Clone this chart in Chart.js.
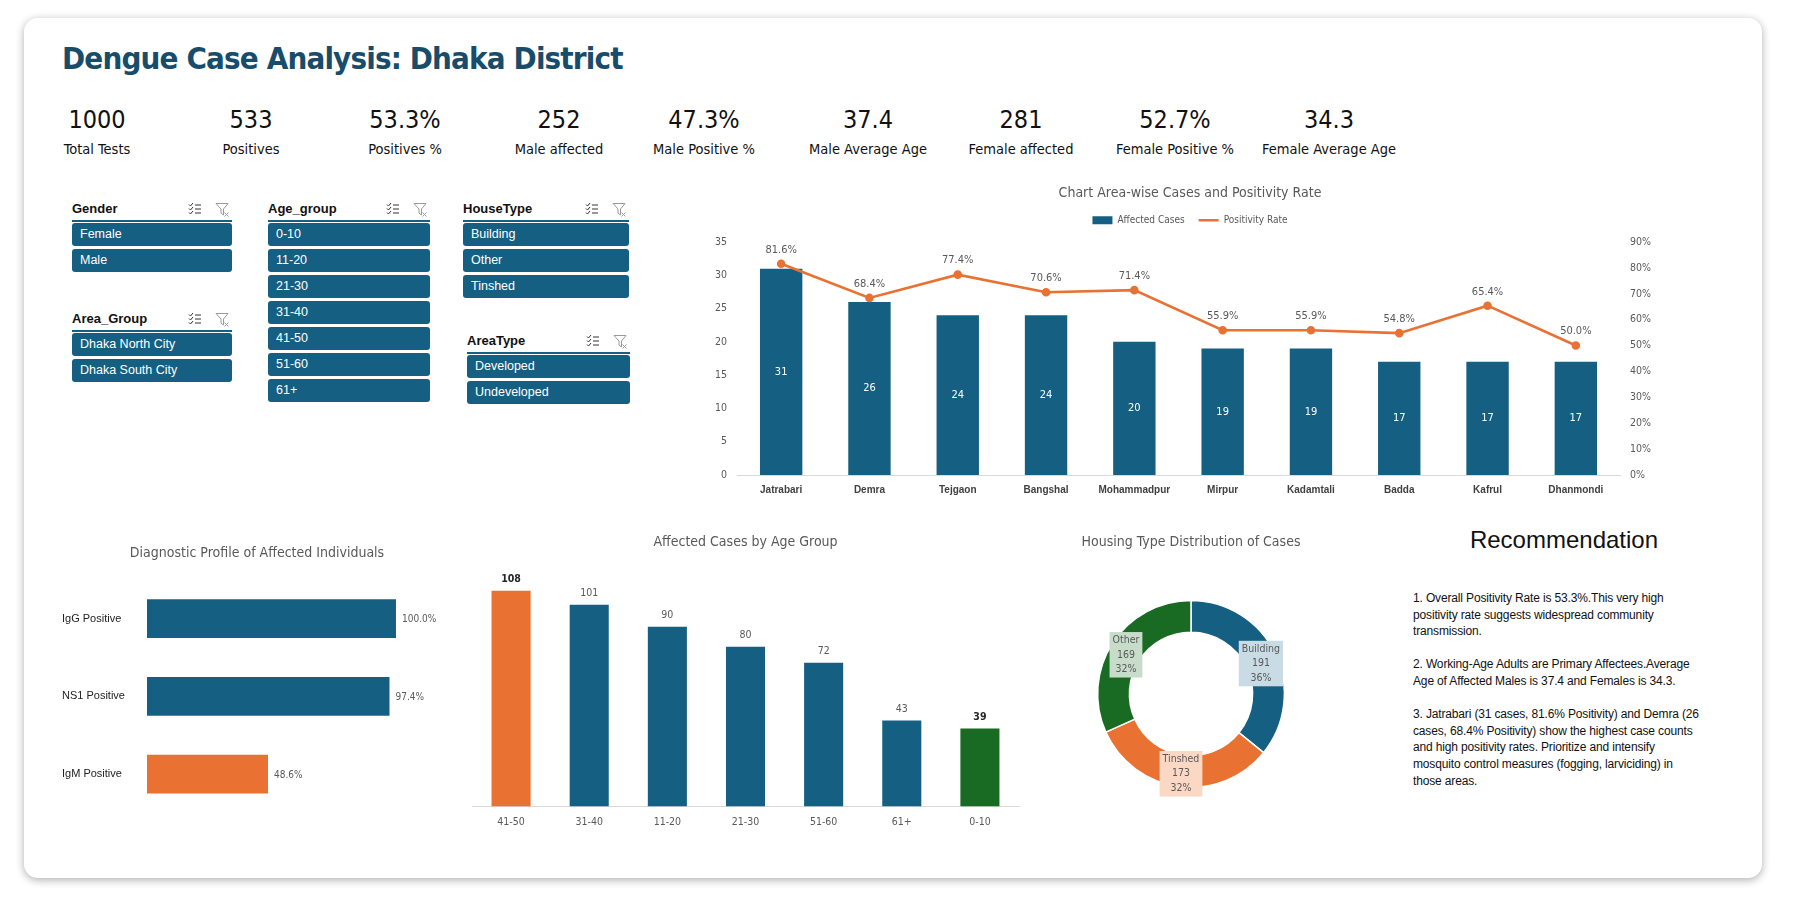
<!DOCTYPE html>
<html>
<head>
<meta charset="utf-8">
<title>Dengue Case Analysis: Dhaka District</title>
<script src="https://cdn.jsdelivr.net/npm/chart.js@4.4.1/dist/chart.umd.min.js"></script>
<style>
  html, body { margin: 0; padding: 0; background: #fff; width: 1797px; height: 911px; overflow: hidden; }
  body { font-family: 'Liberation Sans', Arial, sans-serif; color: #111; }
  #card { position: absolute; left: 24px; top: 18px; width: 1738px; height: 860px; background: #fff;
          border-radius: 14px; box-shadow: 0 2px 9px rgba(0,0,0,.32); }
  #title { position: absolute; left: 62px; top: 40px; font: bold 31px 'Liberation Sans Narrow', 'DejaVu Sans Condensed', sans-serif; color: #174d6b; letter-spacing: -0.85px; }
  .kpi { position: absolute; transform: translateX(-50%); text-align: center; white-space: nowrap; }
  .kv { font: 25px 'Liberation Sans Narrow', 'DejaVu Sans Condensed', sans-serif; line-height: 30px; height: 30px; color: #111; }
  .kl { font: 14.5px 'Liberation Sans Narrow', 'DejaVu Sans Condensed', sans-serif; line-height: 18px; margin-top: 5px; color: #111; }
  .sl { position: absolute; }
  .sh { position: relative; height: 22px; font: bold 13px 'Liberation Sans', Arial, sans-serif; line-height: 22px; border-bottom: 2px solid #156082; color: #111; }
  .sh svg { position: absolute; top: 4px; }
  .btn { height: 23px; margin-top: 3px; background: #156082; border-radius: 3px; color: #fff; font: 12.5px 'Liberation Sans', Arial, sans-serif; line-height: 23px; padding-left: 8px; }
  .sh + .btn { margin-top: 1px; }
  .box { position: absolute; }
  #recT { position: absolute; left: 1464px; top: 526px; width: 200px; text-align: center; font: 24px 'Liberation Sans', Arial, sans-serif; color: #111; }
  #recB { position: absolute; left: 1413px; top: 590px; font: 12px 'Liberation Sans', Arial, sans-serif; line-height: 16.6px; color: #111; white-space: nowrap; letter-spacing: -0.15px; }
</style>
</head>
<body>
<div id="card"></div>
<div id="title">Dengue Case Analysis: Dhaka District</div>
<div id="kpis"></div>
<div id="slicers"></div>

<div class="box" style="left:690px;top:179px;width:1000px;height:326px"><canvas id="areaChart"></canvas></div>
<div class="box" style="left:40px;top:530px;width:440px;height:290px"><canvas id="diagChart"></canvas></div>
<div class="box" style="left:460px;top:520px;width:570px;height:320px"><canvas id="ageChart"></canvas></div>
<div class="box" style="left:1011px;top:520px;width:360px;height:290px"><canvas id="houseChart"></canvas></div>

<div id="recT">Recommendation</div>
<div id="recB">1. Overall Positivity Rate is 53.3%.This very high<br>positivity rate suggests widespread community<br>transmission.<br><br>2. Working-Age Adults are Primary Affectees.Average<br>Age of Affected Males is 37.4 and Females is 34.3.<br><br>3. Jatrabari (31 cases, 81.6% Positivity) and Demra (26<br>cases, 68.4% Positivity) show the highest case counts<br>and high positivity rates. Prioritize and intensify<br>mosquito control measures (fogging, larviciding) in<br>those areas.</div>

<script>
// KPI cards
const kpiValues = ['1000', '533', '53.3%', '252', '47.3%', '37.4', '281', '52.7%', '34.3'];
const kpiLabels = ['Total Tests', 'Positives', 'Positives %', 'Male affected', 'Male Positive %',
                   'Male Average Age', 'Female affected', 'Female Positive %', 'Female Average Age'];

// area-wise cases and positivity
const areaNames = ['Jatrabari', 'Demra', 'Tejgaon', 'Bangshal', 'Mohammadpur', 'Mirpur', 'Kadamtali', 'Badda', 'Kafrul', 'Dhanmondi'];
const areaCases = [31, 26, 24, 24, 20, 19, 19, 17, 17, 17];
const areaPositivity = [81.6, 68.4, 77.4, 70.6, 71.4, 55.9, 55.9, 54.8, 65.4, 50.0];

// diagnostic profile
const testNames = ['IgG Positive', 'NS1 Positive', 'IgM Positive'];
const testRates = [100.0, 97.4, 48.6];

// age groups
const ageGroups = ['41-50', '31-40', '11-20', '21-30', '51-60', '61+', '0-10'];
const ageCases = [108, 101, 90, 80, 72, 43, 39];

// housing
const houseTypes = ['Building', 'Tinshed', 'Other'];
const houseCases = [191, 173, 169];

// slicers
const slicerGender = ['Female', 'Male'];
const slicerArea = ['Dhaka North City', 'Dhaka South City'];
const slicerAge = ['0-10', '11-20', '21-30', '31-40', '41-50', '51-60', '61+'];
const slicerHouse = ['Building', 'Other', 'Tinshed'];
const slicerAreaType = ['Developed', 'Undeveloped'];

const BLUE = '#156082', ORANGE = '#E97132', GREEN = '#196B24';
const GREY = '#595959';
const NARROW = "'Liberation Sans Narrow', 'DejaVu Sans Condensed', Arial, sans-serif";
const REG = "'Liberation Sans', Arial, sans-serif";

// ---- KPIs
const kpiX = [97, 251, 405, 559, 704, 868, 1021, 1175, 1329];
const kpiBox = document.getElementById('kpis');
kpiValues.forEach((v, i) => {
  const d = document.createElement('div');
  d.className = 'kpi';
  d.style.left = kpiX[i] + 'px';
  d.style.top = '105px';
  d.innerHTML = '<div class="kv">' + v + '</div><div class="kl">' + kpiLabels[i] + '</div>';
  kpiBox.appendChild(d);
});

// ---- slicers
const iconList = '<svg style="right:30px" width="14" height="14" viewBox="0 0 14 14" fill="none" stroke="#333" stroke-width="1"><path d="M1 2.5l1.5 1.5 2.5-3M1 6.5l1.5 1.5 2.5-3M1 10.5l1.5 1.5 2.5-3M7 3h6M7 7h6M7 11h6"/></svg>';
const iconFilter = '<svg style="right:2px" width="15" height="15" viewBox="0 0 15 15" fill="none" stroke="#9a9a9a" stroke-width="1"><path d="M1 1.5h12l-4.5 5.5v6l-2.5-1.8V7z"/><path d="M9.5 10.5l4 4M13.5 10.5l-4 4"/></svg>';
function slicer(name, items, left, top, width) {
  const d = document.createElement('div');
  d.className = 'sl';
  d.style.left = left + 'px';
  d.style.top = top + 'px';
  d.style.width = width + 'px';
  let html = '<div class="sh">' + name + iconList + iconFilter + '</div>';
  items.forEach(t => { html += '<div class="btn">' + t + '</div>'; });
  d.innerHTML = html;
  document.getElementById('slicers').appendChild(d);
}
slicer('Gender', slicerGender, 72, 198, 160);
slicer('Area_Group', slicerArea, 72, 308, 160);
slicer('Age_group', slicerAge, 268, 198, 162);
slicer('HouseType', slicerHouse, 463, 198, 166);
slicer('AreaType', slicerAreaType, 467, 330, 163);

Chart.defaults.font.family = NARROW;
Chart.defaults.color = GREY;
Chart.defaults.animation = false;

// ---- area-wise combo chart
new Chart(document.getElementById('areaChart'), {
  type: 'bar',
  data: {
    labels: areaNames,
    datasets: [
      { type: 'bar', label: 'Affected Cases', data: areaCases, backgroundColor: BLUE,
        barPercentage: 0.48, categoryPercentage: 1, yAxisID: 'y', order: 2 },
      { type: 'line', label: 'Positivity Rate', data: areaPositivity, borderColor: ORANGE,
        backgroundColor: ORANGE, borderWidth: 2.6, pointRadius: 3, pointBackgroundColor: ORANGE,
        yAxisID: 'y1', order: 1, tension: 0 }
    ]
  },
  options: {
    responsive: true, maintainAspectRatio: false,
    layout: { padding: 0 },
    scales: {
      x: { grid: { display: false, drawTicks: false }, border: { color: '#d9d9d9' },
           ticks: { padding: 9, color: '#404040', font: { family: REG, size: 10, weight: 'bold' } } },
      x2: { position: 'top', grid: { display: false, drawTicks: false }, border: { display: false },
            ticks: { display: false }, afterFit: s => { s.height = 6.7; } },
      y: { min: 0, max: 35, position: 'left',
           ticks: { stepSize: 5, padding: 10, font: { size: 10.5 } },
           grid: { display: false, drawTicks: false }, border: { display: false },
           afterFit: s => { s.width = 47; } },
      y1: { min: 0, max: 90, position: 'right',
            ticks: { stepSize: 10, padding: 10, font: { size: 10.5 }, callback: v => v + '%' },
            grid: { display: false, drawTicks: false }, border: { display: false },
            afterFit: s => { s.width = 70; } }
    },
    plugins: {
      title: { display: true, text: 'Chart Area-wise Cases and Positivity Rate', color: GREY,
               font: { size: 14, weight: 'normal' }, padding: { top: 5.5, bottom: 0 } },
      legend: {
        labels: {
          usePointStyle: true, pointStyleWidth: 20, boxHeight: 8, padding: 14,
          font: { size: 10 }, color: GREY,
          sort: (a, b) => a.datasetIndex - b.datasetIndex,
          generateLabels(chart) {
            const items = Chart.defaults.plugins.legend.labels.generateLabels(chart);
            items.forEach(it => { it.pointStyle = it.datasetIndex === 0 ? 'rect' : 'line'; });
            return items;
          }
        }
      },
      tooltip: { enabled: false }
    }
  },
  plugins: [{
    id: 'areaLabels',
    afterDatasetsDraw(chart) {
      const ctx = chart.ctx;
      ctx.save();
      ctx.textAlign = 'center';
      ctx.textBaseline = 'middle';
      ctx.font = '11px ' + NARROW;
      chart.getDatasetMeta(0).data.forEach((el, i) => {
        ctx.fillStyle = '#fff';
        ctx.fillText(areaCases[i], el.x, (el.y + el.base) / 2);
      });
      chart.getDatasetMeta(1).data.forEach((el, i) => {
        ctx.fillStyle = GREY;
        ctx.fillText(areaPositivity[i].toFixed(1) + '%', el.x, el.y - 14);
      });
      ctx.restore();
    }
  }]
});

// ---- diagnostic profile
new Chart(document.getElementById('diagChart'), {
  type: 'bar',
  data: {
    labels: testNames,
    datasets: [{ data: testRates, backgroundColor: [BLUE, BLUE, ORANGE], barPercentage: 0.5, categoryPercentage: 1 }]
  },
  options: {
    indexAxis: 'y',
    responsive: true, maintainAspectRatio: false,
    layout: { padding: { left: 22, right: 28, bottom: 7 } },
    scales: {
      x: { display: false, min: 0, max: 122.5 },
      y: { grid: { display: false, drawTicks: false }, border: { display: false },
           ticks: { padding: 0, crossAlign: 'far', color: '#222', font: { family: REG, size: 11 } },
           afterFit: s => { s.width = 85; } }
    },
    plugins: {
      legend: { display: false },
      tooltip: { enabled: false },
      title: { display: true, text: 'Diagnostic Profile of Affected Individuals', color: GREY,
               font: { size: 14, weight: 'normal' }, padding: { top: 15, bottom: 18 } }
    }
  },
  plugins: [{
    id: 'diagLabels',
    afterDatasetsDraw(chart) {
      const ctx = chart.ctx;
      ctx.save();
      ctx.textAlign = 'left';
      ctx.textBaseline = 'middle';
      ctx.fillStyle = GREY;
      ctx.font = '10px ' + NARROW;
      chart.getDatasetMeta(0).data.forEach((el, i) => {
        ctx.fillText(testRates[i].toFixed(1) + '%', el.x + 6, el.y + 1);
      });
      ctx.restore();
    }
  }]
});

// ---- age groups
const ageColors = [ORANGE, BLUE, BLUE, BLUE, BLUE, BLUE, GREEN];
new Chart(document.getElementById('ageChart'), {
  type: 'bar',
  data: {
    labels: ageGroups,
    datasets: [{ data: ageCases, backgroundColor: ageColors, barPercentage: 0.5, categoryPercentage: 1 }]
  },
  options: {
    responsive: true, maintainAspectRatio: false,
    layout: { padding: { left: 12, right: 11, bottom: 1 } },
    scales: {
      x: { grid: { display: false, drawTicks: false }, border: { color: '#d9d9d9' },
           ticks: { padding: 10, font: { size: 10.5 } } },
      y: { display: false, min: 0, max: 120 }
    },
    plugins: {
      legend: { display: false },
      tooltip: { enabled: false },
      title: { display: true, text: 'Affected Cases by Age Group', color: GREY,
               font: { size: 14, weight: 'normal' }, padding: { top: 14, bottom: 16 } }
    }
  },
  plugins: [{
    id: 'ageLabels',
    afterDatasetsDraw(chart) {
      const ctx = chart.ctx;
      ctx.save();
      ctx.textAlign = 'center';
      ctx.textBaseline = 'middle';
      chart.getDatasetMeta(0).data.forEach((el, i) => {
        const hi = ageColors[i] !== BLUE;
        ctx.fillStyle = hi ? '#262626' : GREY;
        ctx.font = (hi ? 'bold ' : '') + '10.5px ' + NARROW;
        ctx.fillText(ageCases[i], el.x, el.y - 11);
      });
      ctx.restore();
    }
  }]
});

// ---- housing doughnut
const houseLabelBg = ['#c9dbe4', '#fbd8c4', '#c7dcc9'];
new Chart(document.getElementById('houseChart'), {
  type: 'doughnut',
  data: {
    labels: houseTypes,
    datasets: [{ data: houseCases, backgroundColor: [BLUE, ORANGE, GREEN], borderColor: '#fff', borderWidth: 1.5 }]
  },
  options: {
    responsive: true, maintainAspectRatio: false,
    cutout: '66%',
    layout: { padding: { bottom: 22 } },
    plugins: {
      legend: { display: false },
      tooltip: { enabled: false },
      title: { display: true, text: 'Housing Type Distribution of Cases', color: GREY,
               font: { size: 14, weight: 'normal' }, padding: { top: 14, bottom: 49 } }
    }
  },
  plugins: [{
    id: 'houseLabels',
    afterDatasetsDraw(chart) {
      const ctx = chart.ctx;
      const total = houseCases.reduce((a, b) => a + b, 0);
      ctx.save();
      ctx.font = '10.5px ' + NARROW;
      ctx.textAlign = 'center';
      ctx.textBaseline = 'middle';
      chart.getDatasetMeta(0).data.forEach((arc, i) => {
        const p = arc.tooltipPosition();
        const lines = [houseTypes[i], String(houseCases[i]), Math.round(houseCases[i] / total * 100) + '%'];
        const w = Math.max(...lines.map(t => ctx.measureText(t).width)) + 6;
        const lh = 14.5, h = lh * 3 + 2;
        ctx.fillStyle = houseLabelBg[i];
        ctx.fillRect(p.x - w / 2, p.y - h / 2 + 3, w, h);
        ctx.fillStyle = GREY;
        lines.forEach((t, k) => ctx.fillText(t, p.x, p.y + 3 + (k - 1) * lh));
      });
      ctx.restore();
    }
  }]
});
</script>
</body>
</html>
